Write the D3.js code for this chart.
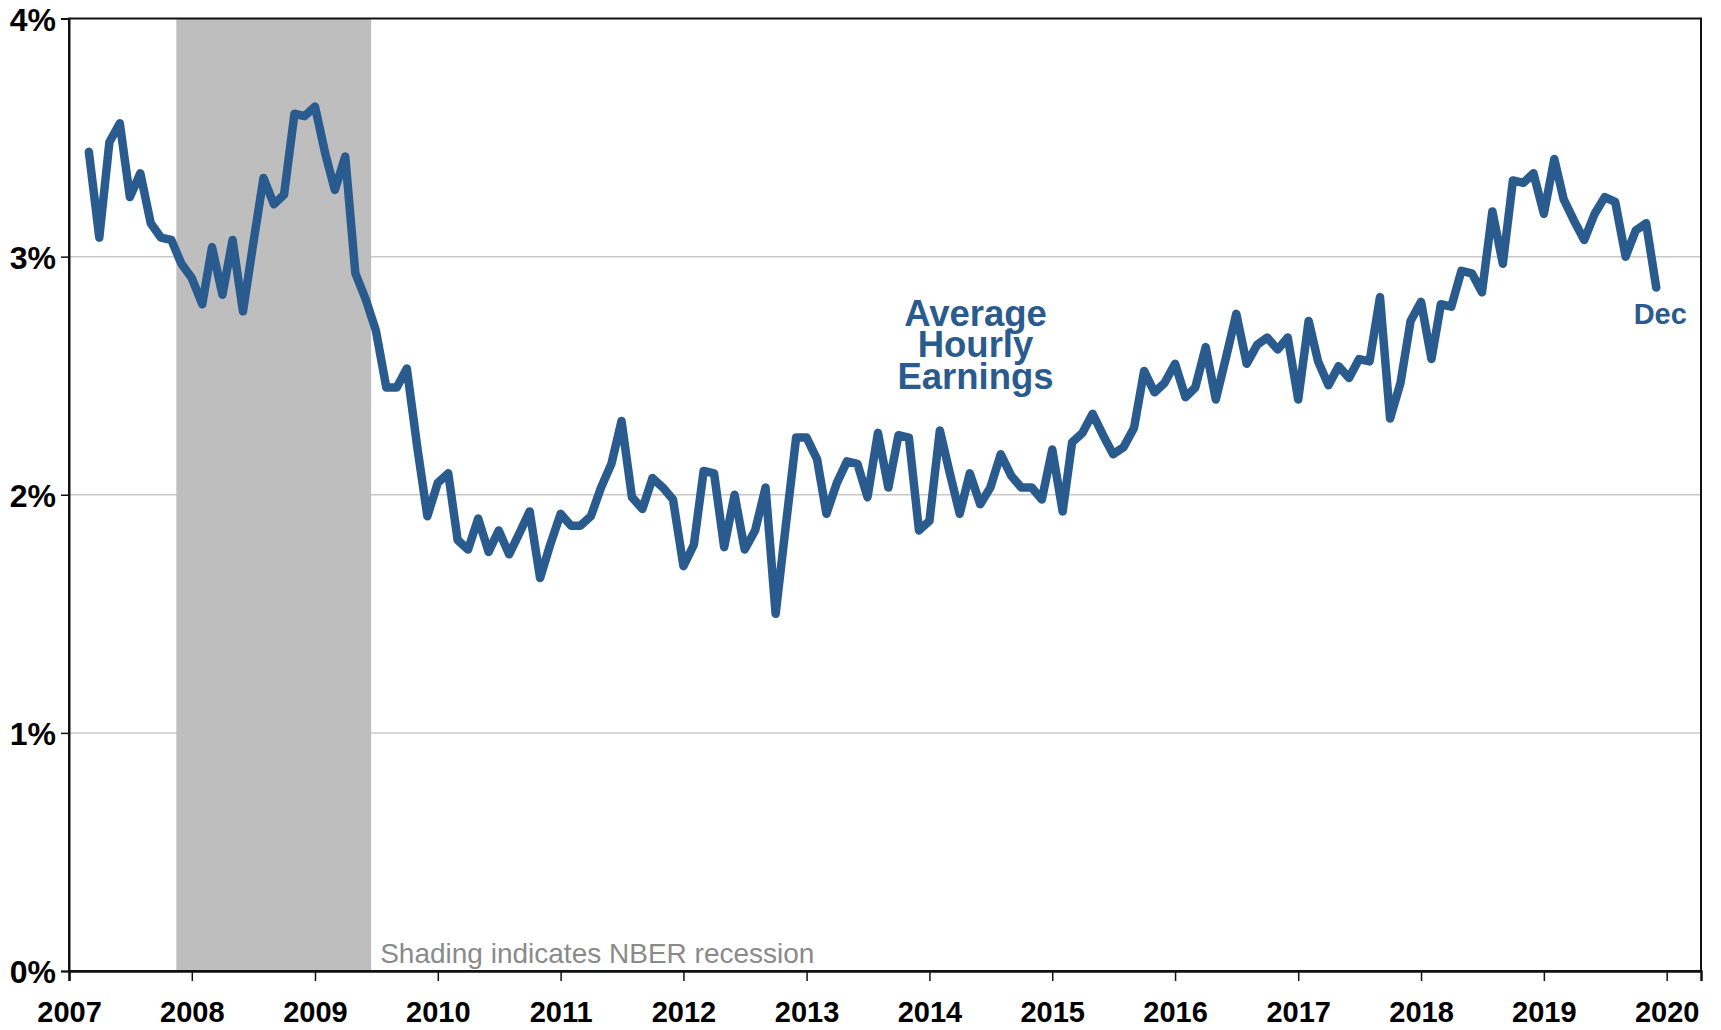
<!DOCTYPE html>
<html>
<head>
<meta charset="utf-8">
<script src="https://cdn.jsdelivr.net/npm/d3@7"></script>
<style>
  body { margin: 0; background: #fff; }
  svg { display: block; font-family: 'Liberation Sans', Arial, sans-serif; }
</style>
</head>
<body>
<svg></svg>
<script>
// year-over-year growth, monthly, Mar 2007 .. Dec 2019
const firstMonth = '2007-03'
const ahe = [
  3.44, 3.08, 3.48, 3.56, 3.25, 3.35, 3.14, 3.08, 3.07, 2.97,
  2.91, 2.80, 3.04, 2.84, 3.07, 2.77, 3.05, 3.33, 3.22, 3.26, 3.60, 3.59,
  3.63, 3.43, 3.28, 3.42, 2.93, 2.82, 2.69, 2.45, 2.45, 2.53, 2.20, 1.91,
  2.05, 2.09, 1.81, 1.77, 1.90, 1.76, 1.85, 1.75, 1.84, 1.93, 1.65, 1.79,
  1.92, 1.87, 1.87, 1.91, 2.03, 2.13, 2.31, 1.99, 1.94, 2.07, 2.03, 1.98,
  1.70, 1.79, 2.10, 2.09, 1.78, 2.00, 1.77, 1.85, 2.03, 1.50, 1.88, 2.24,
  2.24, 2.15, 1.92, 2.05, 2.14, 2.13, 1.99, 2.26, 2.03, 2.25, 2.24, 1.85,
  1.89, 2.27, 2.10, 1.92, 2.09, 1.96, 2.03, 2.17, 2.08, 2.03, 2.03, 1.98,
  2.19, 1.93, 2.22, 2.26, 2.34, 2.25, 2.17, 2.20, 2.28, 2.52, 2.43, 2.47,
  2.55, 2.41, 2.45, 2.62, 2.40, 2.58, 2.76, 2.55, 2.63, 2.66, 2.61, 2.66,
  2.40, 2.73, 2.56, 2.46, 2.54, 2.49, 2.57, 2.56, 2.83, 2.32, 2.47, 2.73,
  2.81, 2.57, 2.80, 2.79, 2.94, 2.93, 2.85, 3.19, 2.97, 3.32, 3.31, 3.35,
  3.18, 3.41, 3.24, 3.15, 3.07, 3.18, 3.25, 3.23, 3.00, 3.11, 3.14, 2.87
]
const yTicks = [0, 1, 2, 3, 4]
const yearTicks = [2007, 2008, 2009, 2010, 2011, 2012, 2013, 2014, 2015, 2016, 2017, 2018, 2019, 2020]
const recession = ['2007-12', '2009-06']
const seriesLabel = ['Average', 'Hourly', 'Earnings']
const endLabel = 'Dec'
const note = 'Shading indicates NBER recession'

const W = 1721
const H = 1030
const pd = { top: 18.5, left: 69, right: 20, bottom: 59 }
const blue = '#2a5b8e'

const parseMonth = d3.timeParse('%Y-%m')
const start = parseMonth(firstMonth)
const d = ahe.map((v, i) => ({ date: d3.timeMonth.offset(start, i), value: v }))

const svg = d3.select('svg')
  .attr('width', W)
  .attr('height', H)

const x = d3.scaleTime()
  .domain([new Date(2007, 0, 1), new Date(2020, 3, 12)])
  .range([pd.left, W - pd.right])

const y = d3.scaleLinear()
  .domain([0, 4])
  .range([H - pd.bottom, pd.top])

// gridlines
svg.append('g')
  .selectAll('line')
  .data(yTicks.filter(t => t > 0 && t < 4))
  .enter()
  .append('line')
  .attr('x1', x.range()[0])
  .attr('x2', x.range()[1])
  .attr('y1', t => y(t))
  .attr('y2', t => y(t))
  .attr('stroke', '#c8c8c8')
  .attr('stroke-width', 1.5)

// recession band, half a month either side of the monthly points
const r0 = d3.timeDay.offset(parseMonth(recession[0]), -15)
const r1 = d3.timeDay.offset(parseMonth(recession[1]), 16)
svg.append('rect')
  .attr('x', x(r0))
  .attr('y', y(4))
  .attr('width', x(r1) - x(r0))
  .attr('height', y(0) - y(4))
  .attr('fill', '#bebebe')

svg.append('text')
  .attr('x', x(r1) + 9)
  .attr('y', y(0) - 8)
  .attr('font-size', 28)
  .attr('fill', '#8a8a8a')
  .text(note)

// frame
svg.append('rect')
  .attr('x', x.range()[0])
  .attr('y', y(4))
  .attr('width', x.range()[1] - x.range()[0])
  .attr('height', y(0) - y(4))
  .attr('fill', 'none')
  .attr('stroke', '#111')
  .attr('stroke-width', 2)

// y axis
const ya = svg.append('g')
  .attr('transform', `translate(${pd.left}, 0)`)
  .call(d3.axisLeft(y).tickValues(yTicks).tickSize(8).tickPadding(5).tickFormat(t => t + '%'))
ya.select('.domain').attr('stroke', '#111').attr('stroke-width', 2)
ya.selectAll('.tick line').attr('stroke', '#111').attr('stroke-width', 1.5)
ya.selectAll('.tick text')
  .attr('font-family', "'Liberation Sans', Arial, sans-serif")
  .attr('font-size', 32)
  .attr('font-weight', 'bold')
  .attr('fill', '#000')
  .attr('dy', '0.36em')

// x axis
const xa = svg.append('g')
  .attr('transform', `translate(0, ${y(0)})`)
  .call(d3.axisBottom(x)
    .tickValues(yearTicks.map(yr => new Date(yr, 0, 1)))
    .tickSize(10)
    .tickPadding(20)
    .tickFormat(d3.timeFormat('%Y')))
xa.select('.domain').attr('stroke', '#111').attr('stroke-width', 2.5)
xa.selectAll('.tick line').attr('stroke', '#111').attr('stroke-width', 1.5)
xa.selectAll('.tick text')
  .attr('font-family', "'Liberation Sans', Arial, sans-serif")
  .attr('font-size', 29)
  .attr('font-weight', 'bold')
  .attr('fill', '#000')

// series
svg.append('path')
  .datum(d)
  .attr('d', d3.line().x(v => x(v.date)).y(v => y(v.value)))
  .attr('fill', 'none')
  .attr('stroke', blue)
  .attr('stroke-width', 8.5)
  .attr('stroke-linejoin', 'round')
  .attr('stroke-linecap', 'round')

// labels
const lx = x(new Date(2014, 4, 18))
svg.append('text')
  .attr('x', lx)
  .attr('y', y(2.71))
  .attr('text-anchor', 'middle')
  .attr('font-size', 36.5)
  .attr('font-weight', 'bold')
  .attr('fill', blue)
  .selectAll('tspan')
  .data(seriesLabel)
  .enter()
  .append('tspan')
  .attr('x', lx)
  .attr('dy', (s, i) => i ? 31.8 : 0)
  .text(s => s)

const last = d[d.length - 1]
svg.append('text')
  .attr('x', x(last.date) + 4)
  .attr('y', y(last.value) + 36)
  .attr('text-anchor', 'middle')
  .attr('font-size', 29)
  .attr('font-weight', 'bold')
  .attr('fill', blue)
  .text(endLabel)
</script>
</body>
</html>
